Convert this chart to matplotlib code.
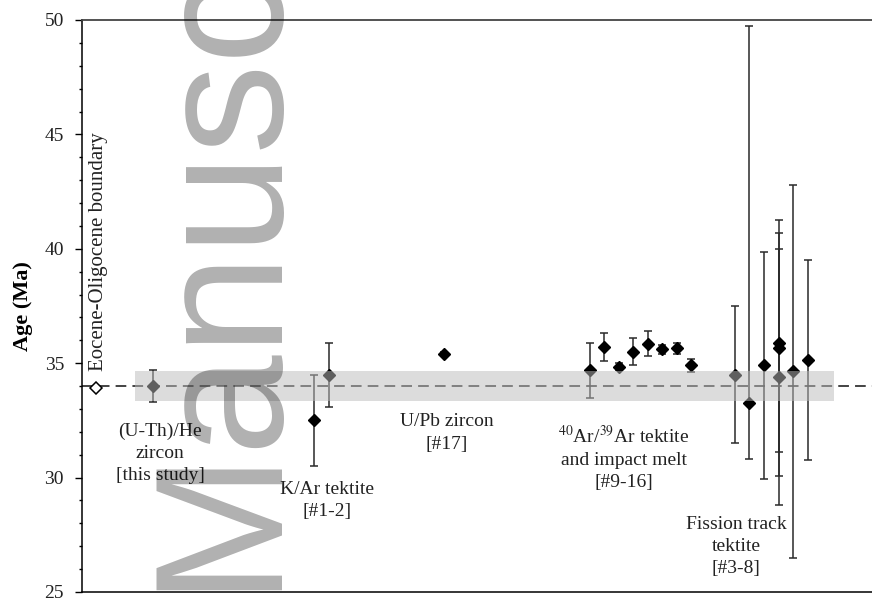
import matplotlib
matplotlib.use("Agg")
import matplotlib.pyplot as plt

plt.rcParams['font.family'] = ['Liberation Serif', 'DejaVu Serif']
plt.rcParams['mathtext.fontset'] = 'stix'

# plotting positions along the (unlabelled) x axis and ages in Ma
eo_x = [14]
eo_age = [33.9]

uthhe_x = [71]
uthhe_age = [34.0]
uthhe_err = [0.7]

kar_x = [232, 247]
kar_age = [32.5, 34.5]
kar_err = [2.0, 1.4]

upb_x = [362]
upb_age = [35.4]
upb_err = [0.1]

arar_x = [508, 522, 537, 551, 566, 580, 595, 609]
arar_age = [34.7, 35.7, 34.85, 35.5, 35.85, 35.6, 35.65, 34.9]
arar_err = [1.2, 0.6, 0.15, 0.6, 0.55, 0.2, 0.25, 0.3]

ft_x = [653, 667, 682, 697, 697, 697, 711, 726]
ft_age = [34.5, 33.25, 34.9, 35.9, 35.65, 34.4, 34.65, 35.15]
ft_err_lo = [3.0, 2.45, 4.95, 4.8, 5.6, 5.6, 8.15, 4.4]
ft_err_hi = [3.0, 16.5, 4.95, 4.8, 5.6, 5.6, 8.15, 4.35]

boundary_age = 34.0
band_half = 0.67
band_x = [53, 752]

fig = plt.figure(figsize=(8.72, 5.99), dpi=100)
ax = fig.add_axes([82/872, 1 - 592/599, 1 - 82/872, (592 - 20)/599])

ekw = dict(fmt='D', color='black', ms=6, ecolor='#2a2a2a', elinewidth=1.1,
           capsize=3, capthick=1.1, zorder=3)
ax.errorbar(uthhe_x, uthhe_age, yerr=uthhe_err, **ekw)
ax.errorbar(kar_x, kar_age, yerr=kar_err, **ekw)
ax.errorbar(upb_x, upb_age, yerr=upb_err, **ekw)
ax.errorbar(arar_x, arar_age, yerr=arar_err, **ekw)
ax.errorbar(ft_x, ft_age, yerr=[ft_err_lo, ft_err_hi], **ekw)

# Eocene-Oligocene boundary
line = ax.axhline(boundary_age, color='#111111', lw=1.1, zorder=2)
line.set_dashes([7, 4])
ax.plot(eo_x, eo_age, 'D', ms=6, mfc='white', mec='black', mew=1.1, zorder=4)

# semi-transparent band drawn over the data
ax.fill_between(band_x, boundary_age - band_half, boundary_age + band_half,
                color='#bbbbbb', alpha=0.51, lw=0, zorder=5)

ax.set_xlim(0, 790)
ax.set_ylim(25, 50)
ax.set_yticks([25, 30, 35, 40, 45, 50])
ax.set_yticks(range(25, 51), minor=True)
ax.set_xticks([])
ax.tick_params(axis='y', which='major', direction='out', length=5, width=1,
               labelsize=14, pad=8, labelcolor='#222222')
ax.tick_params(axis='y', which='minor', direction='out', length=2.5, width=1)
ax.spines['right'].set_visible(False)
ax.spines['top'].set_color('#444444')
ax.spines['top'].set_linewidth(1.3)
for s in ['left', 'bottom']:
    ax.spines[s].set_linewidth(1.1)
ax.set_ylabel('Age (Ma)', fontsize=16, fontweight='bold', labelpad=8)

tkw = dict(ha='center', va='center', fontsize=14, color='#222222',
           linespacing=1.4, zorder=6)
ax.text(78, 31.07, '(U-Th)/He\nzircon\n[this study]', **tkw)
ax.text(245, 29.0, 'K/Ar tektite\n[#1-2]', **tkw)
ax.text(365, 31.95, 'U/Pb zircon\n[#17]', **tkw)
ax.text(542, 30.86, '$^{40}$Ar/$^{39}$Ar tektite\nand impact melt\n[#9-16]', **tkw)
ax.text(654, 27.0, 'Fission track\ntektite\n[#3-8]', **tkw)
ax.text(17, 34.66, 'Eocene-Oligocene boundary', rotation=90, ha='center',
        va='bottom', fontsize=15, color='#222222')

# watermark
fig.text(268/872, 1 - 590/599, 'Manuscript', rotation=90, rotation_mode='anchor',
         ha='left', va='baseline', fontsize=130, family='Liberation Sans',
         color='black', alpha=0.31, zorder=10)

fig.savefig('out.png', dpi=100)
